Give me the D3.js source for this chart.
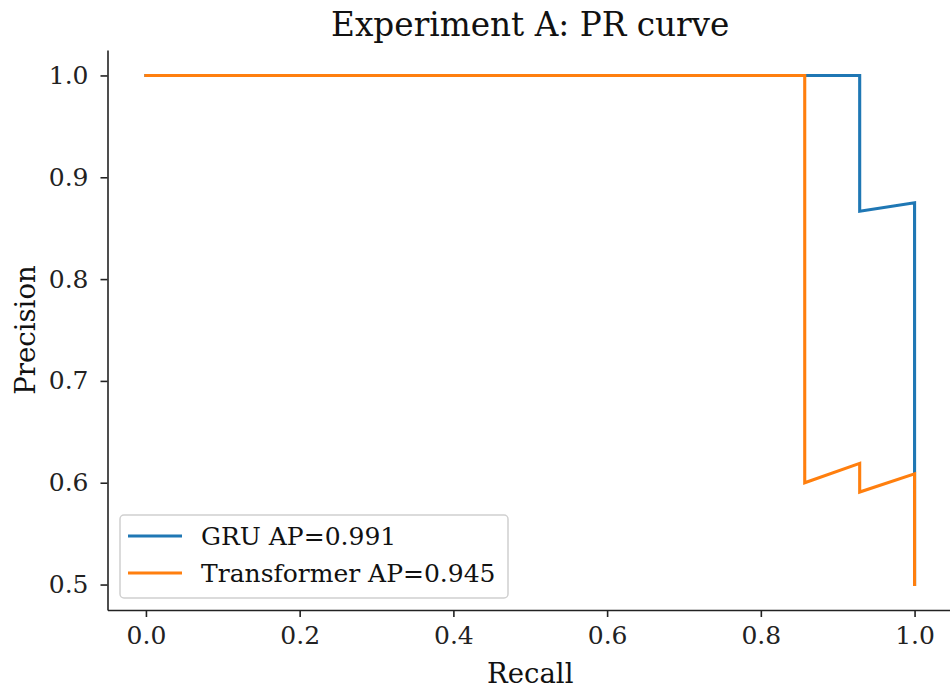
<!DOCTYPE html>
<html>
<head>
<meta charset="utf-8">
<script src="https://cdn.jsdelivr.net/npm/d3@7"></script>
<style>
  html, body { margin: 0; padding: 0; background: #fff; }
  svg { display: block; font-family: "DejaVu Serif", serif; }
</style>
</head>
<body>
<svg id="chart" width="950" height="690"></svg>
<script>
// Precision/recall points for each model, ordered along recall
const gruRecall = [0.0, 0.9286, 0.9286, 1.0, 1.0];
const gruPrecision = [1.0, 1.0, 0.8667, 0.875, 0.5];
const transformerRecall = [0.0, 0.8571, 0.8571, 0.9286, 0.9286, 1.0, 1.0];
const transformerPrecision = [1.0, 1.0, 0.6, 0.619, 0.5909, 0.6087, 0.5];

const seriesNames = ["GRU AP=0.991", "Transformer AP=0.945"];
const seriesColors = ["#1f77b4", "#ff7f0e"];

const xTicks = [0.0, 0.2, 0.4, 0.6, 0.8, 1.0];
const yTicks = [0.5, 0.6, 0.7, 0.8, 0.9, 1.0];

const series = [
  { name: seriesNames[0], color: seriesColors[0], pts: gruRecall.map((r, i) => [r, gruPrecision[i]]) },
  { name: seriesNames[1], color: seriesColors[1], pts: transformerRecall.map((r, i) => [r, transformerPrecision[i]]) }
];

const svg = d3.select("#chart");
const plotLeft = 107.5, plotRight = 953, plotTop = 50, plotBottom = 610;
const tickSize = 25, axisLabelSize = 27.5;

const x = d3.scaleLinear().domain([-0.05, 1.05]).range([plotLeft, plotRight]);
const y = d3.scaleLinear().domain([0.475, 1.025]).range([plotBottom, plotTop]);

// Title
svg.append("text")
  .attr("x", (plotLeft + plotRight) / 2).attr("y", 36)
  .attr("text-anchor", "middle")
  .attr("font-size", 32.7)
  .attr("fill", "#111")
  .text("Experiment A: PR curve");

// Axes
const xAxis = svg.append("g")
  .attr("transform", `translate(0,${plotBottom})`)
  .call(d3.axisBottom(x).tickValues(xTicks).tickFormat(d3.format(".1f")).tickSize(7).tickSizeOuter(0).tickPadding(9));
const yAxis = svg.append("g")
  .attr("transform", `translate(${plotLeft},0)`)
  .call(d3.axisLeft(y).tickValues(yTicks).tickFormat(d3.format(".1f")).tickSize(7).tickSizeOuter(0).tickPadding(12));

[xAxis, yAxis].forEach(g => {
  g.select(".domain").attr("stroke", "#222").attr("stroke-width", 1.6);
  g.selectAll(".tick line").attr("stroke", "#222").attr("stroke-width", 1.6);
  g.selectAll(".tick text").attr("font-size", tickSize).attr("fill", "#222")
    .attr("font-family", "DejaVu Serif, serif");
});

// Axis labels
svg.append("text")
  .attr("x", (plotLeft + plotRight) / 2).attr("y", 683)
  .attr("text-anchor", "middle")
  .attr("font-size", axisLabelSize).attr("fill", "#111")
  .text("Recall");
svg.append("text")
  .attr("transform", `translate(35,${(plotTop + plotBottom) / 2}) rotate(-90)`)
  .attr("text-anchor", "middle")
  .attr("font-size", axisLabelSize).attr("fill", "#111")
  .text("Precision");

// Curves
const line = d3.line().x(d => x(d[0])).y(d => y(d[1]));
svg.append("g").selectAll("path")
  .data(series)
  .join("path")
  .attr("d", d => line(d.pts))
  .attr("fill", "none")
  .attr("stroke", d => d.color)
  .attr("stroke-width", 3.1)
  .attr("stroke-linejoin", "miter")
  .attr("stroke-linecap", "square");

// Legend
const lg = svg.append("g").attr("transform", "translate(120,515)");
lg.append("rect")
  .attr("width", 388).attr("height", 83)
  .attr("rx", 4)
  .attr("fill", "#fff").attr("fill-opacity", 0.8)
  .attr("stroke", "#d0d0d0").attr("stroke-width", 1.5);
series.forEach((s, i) => {
  const cy = 21 + i * 37;
  lg.append("line")
    .attr("x1", 8).attr("x2", 62).attr("y1", cy).attr("y2", cy)
    .attr("stroke", s.color).attr("stroke-width", 3.1);
  lg.append("text")
    .attr("x", 81).attr("y", cy + 9)
    .attr("font-size", tickSize).attr("fill", "#111")
    .text(s.name);
});
</script>
</body>
</html>
